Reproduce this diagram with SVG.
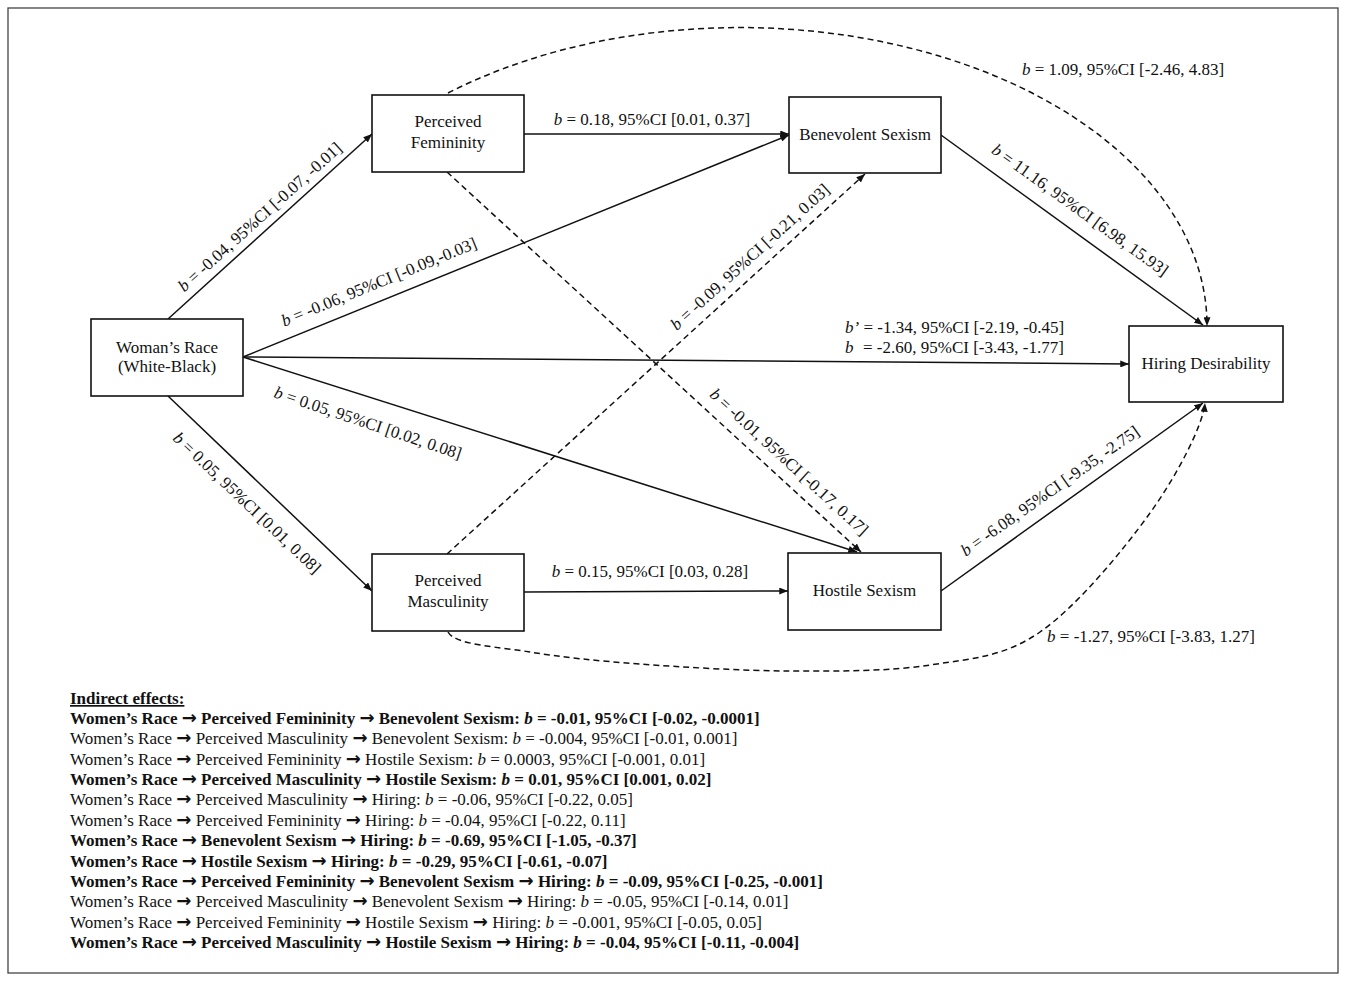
<svg xmlns="http://www.w3.org/2000/svg" width="1346" height="981" viewBox="0 0 1346 981">
<style>
text{font-family:"Liberation Serif","Times New Roman",serif;fill:#111}
.n{font-size:17px;text-anchor:middle}
.l{font-size:17px;text-anchor:middle}
.i{font-style:italic}
.box{fill:#fff;stroke:#111;stroke-width:1.6}
.c{fill:none;stroke:#111;stroke-width:1.5}
.d{fill:none;stroke:#111;stroke-width:1.5;stroke-dasharray:6 4}
.ie{font-size:17px}
.b{font-weight:bold}
.ar{font-family:"DejaVu Sans",sans-serif;font-size:18px;font-weight:bold}
</style>
<defs>
<marker id="ah" viewBox="0 0 10 8" refX="10" refY="4" markerWidth="9" markerHeight="7" markerUnits="userSpaceOnUse" orient="auto">
<path d="M0,0 L10,4 L0,8 z" fill="#111"/>
</marker>
</defs>
<rect x="8" y="8" width="1330" height="965" fill="#fff" stroke="#444" stroke-width="1.3"/>

<g id="connectors">
<line class="c" x1="168" y1="319" x2="372" y2="134" marker-end="url(#ah)"/>
<line class="c" x1="243" y1="357" x2="789" y2="135" marker-end="url(#ah)"/>
<line class="c" x1="524" y1="134" x2="789" y2="134" marker-end="url(#ah)"/>
<line class="c" x1="243" y1="357" x2="1129" y2="364" marker-end="url(#ah)"/>
<line class="c" x1="243" y1="357" x2="857" y2="552" marker-end="url(#ah)"/>
<line class="c" x1="168" y1="396" x2="372" y2="591" marker-end="url(#ah)"/>
<line class="c" x1="524" y1="592" x2="788" y2="591" marker-end="url(#ah)"/>
<line class="c" x1="941" y1="135" x2="1203" y2="325" marker-end="url(#ah)"/>
<line class="c" x1="941" y1="591" x2="1203" y2="403" marker-end="url(#ah)"/>
<line class="d" x1="447" y1="172" x2="861" y2="552" marker-end="url(#ah)"/>
<line class="d" x1="447" y1="554" x2="865" y2="174" marker-end="url(#ah)"/>
<path class="d" d="M448,93 A467,298 0 0,1 1207,326" marker-end="url(#ah)"/>
<path class="d" d="M448,632 C455,645 498,646.7 530,652 C562,657.3 596.7,660.8 640,664 C683.3,667.2 741.7,670.8 790,671 C838.3,671.2 888.3,671.5 930,665 C971.7,658.5 1003.3,657.3 1040,632 C1076.7,606.7 1122.5,551.2 1150,513 C1177.5,474.8 1203,425 1205,403" marker-end="url(#ah)"/>
</g>

<g id="edge-labels">
<text class="l" transform="translate(260,217) rotate(-42)" y="5.5"><tspan class="i">b</tspan> = -0.04, 95%CI [-0.07, -0.01]</text>
<text class="l" transform="translate(379,282) rotate(-22.2)" y="5.5"><tspan class="i">b</tspan> = -0.06, 95%CI [-0.09,-0.03]</text>
<text class="l" x="652" y="125"><tspan class="i">b</tspan> = 0.18, 95%CI [0.01, 0.37]</text>
<text class="l" transform="translate(750,257) rotate(-42.2)" y="5.5"><tspan class="i">b</tspan> = -0.09, 95%CI [-0.21, 0.03]</text>
<text style="font-size:17px" x="845" y="333"><tspan class="i">b’</tspan> = -1.34, 95%CI [-2.19, -0.45]</text>
<text style="font-size:17px" x="845" y="353"><tspan class="i">b</tspan><tspan x="863">= -2.60, 95%CI [-3.43, -1.77]</tspan></text>
<text class="l" transform="translate(1080,210) rotate(35.8)" y="5.5"><tspan class="i">b</tspan> = 11.16, 95%CI [6.98, 15.93]</text>
<text class="l" x="1123" y="75"><tspan class="i">b</tspan> = 1.09, 95%CI [-2.46, 4.83]</text>
<text class="l" transform="translate(368,423) rotate(18.5)" y="5.5"><tspan class="i">b</tspan> = 0.05, 95%CI [0.02, 0.08]</text>
<text class="l" transform="translate(247,503) rotate(43.6)" y="5.5"><tspan class="i">b</tspan> = 0.05, 95%CI [0.01, 0.08]</text>
<text class="l" transform="translate(789,462) rotate(42.5)" y="5.5"><tspan class="i">b</tspan> = -0.01, 95%CI [-0.17, 0.17]</text>
<text class="l" x="650" y="577"><tspan class="i">b</tspan> = 0.15, 95%CI [0.03, 0.28]</text>
<text class="l" transform="translate(1050,491) rotate(-35)" y="5.5"><tspan class="i">b</tspan> = -6.08, 95%CI [-9.35, -2.75]</text>
<text class="l" x="1151" y="642"><tspan class="i">b</tspan> = -1.27, 95%CI [-3.83, 1.27]</text>
</g>

<g id="node-race">
<rect class="box" x="91" y="319" width="152" height="77"/>
<text class="n" x="167" y="353">Woman’s Race</text>
<text class="n" x="167" y="372">(White-Black)</text>
</g>
<g id="node-femininity">
<rect class="box" x="372" y="95" width="152" height="77"/>
<text class="n" x="448" y="127">Perceived</text>
<text class="n" x="448" y="148">Femininity</text>
</g>
<g id="node-masculinity">
<rect class="box" x="372" y="554" width="152" height="77"/>
<text class="n" x="448" y="586">Perceived</text>
<text class="n" x="448" y="607">Masculinity</text>
</g>
<g id="node-benevolent">
<rect class="box" x="789" y="97" width="152" height="76"/>
<text class="n" x="865" y="140">Benevolent Sexism</text>
</g>
<g id="node-hostile">
<rect class="box" x="788" y="553" width="153" height="77"/>
<text class="n" x="864.5" y="596">Hostile Sexism</text>
</g>
<g id="node-hiring">
<rect class="box" x="1129" y="326" width="154" height="76"/>
<text class="n" x="1206" y="369">Hiring Desirability</text>
</g>

<g id="indirect-effects" class="ie">
<text class="ie b" x="70" y="704" text-decoration="underline">Indirect effects:</text>
<text class="ie b" x="70" y="724">Women’s Race <tspan class="ar">→</tspan> Perceived Femininity <tspan class="ar">→</tspan> Benevolent Sexism: <tspan class="i">b</tspan> = -0.01, 95%CI [-0.02, -0.0001]</text>
<text class="ie" x="70" y="744.4">Women’s Race <tspan class="ar">→</tspan> Perceived Masculinity <tspan class="ar">→</tspan> Benevolent Sexism: <tspan class="i">b</tspan> = -0.004, 95%CI [-0.01, 0.001]</text>
<text class="ie" x="70" y="764.7">Women’s Race <tspan class="ar">→</tspan> Perceived Femininity <tspan class="ar">→</tspan> Hostile Sexism: <tspan class="i">b</tspan> = 0.0003, 95%CI [-0.001, 0.01]</text>
<text class="ie b" x="70" y="785.1">Women’s Race <tspan class="ar">→</tspan> Perceived Masculinity <tspan class="ar">→</tspan> Hostile Sexism: <tspan class="i">b</tspan> = 0.01, 95%CI [0.001, 0.02]</text>
<text class="ie" x="70" y="805.4">Women’s Race <tspan class="ar">→</tspan> Perceived Masculinity <tspan class="ar">→</tspan> Hiring: <tspan class="i">b</tspan> = -0.06, 95%CI [-0.22, 0.05]</text>
<text class="ie" x="70" y="825.8">Women’s Race <tspan class="ar">→</tspan> Perceived Femininity <tspan class="ar">→</tspan> Hiring: <tspan class="i">b</tspan> = -0.04, 95%CI [-0.22, 0.11]</text>
<text class="ie b" x="70" y="846.2">Women’s Race <tspan class="ar">→</tspan> Benevolent Sexism <tspan class="ar">→</tspan> Hiring: <tspan class="i">b</tspan> = -0.69, 95%CI [-1.05, -0.37]</text>
<text class="ie b" x="70" y="866.5">Women’s Race <tspan class="ar">→</tspan> Hostile Sexism <tspan class="ar">→</tspan> Hiring: <tspan class="i">b</tspan> = -0.29, 95%CI [-0.61, -0.07]</text>
<text class="ie b" x="70" y="886.9">Women’s Race <tspan class="ar">→</tspan> Perceived Femininity <tspan class="ar">→</tspan> Benevolent Sexism <tspan class="ar">→</tspan> Hiring: <tspan class="i">b</tspan> = -0.09, 95%CI [-0.25, -0.001]</text>
<text class="ie" x="70" y="907.2">Women’s Race <tspan class="ar">→</tspan> Perceived Masculinity <tspan class="ar">→</tspan> Benevolent Sexism <tspan class="ar">→</tspan> Hiring: <tspan class="i">b</tspan> = -0.05, 95%CI [-0.14, 0.01]</text>
<text class="ie" x="70" y="927.6">Women’s Race <tspan class="ar">→</tspan> Perceived Femininity <tspan class="ar">→</tspan> Hostile Sexism <tspan class="ar">→</tspan> Hiring: <tspan class="i">b</tspan> = -0.001, 95%CI [-0.05, 0.05]</text>
<text class="ie b" x="70" y="948">Women’s Race <tspan class="ar">→</tspan> Perceived Masculinity <tspan class="ar">→</tspan> Hostile Sexism <tspan class="ar">→</tspan> Hiring: <tspan class="i">b</tspan> = -0.04, 95%CI [-0.11, -0.004]</text>
</g>
</svg>
